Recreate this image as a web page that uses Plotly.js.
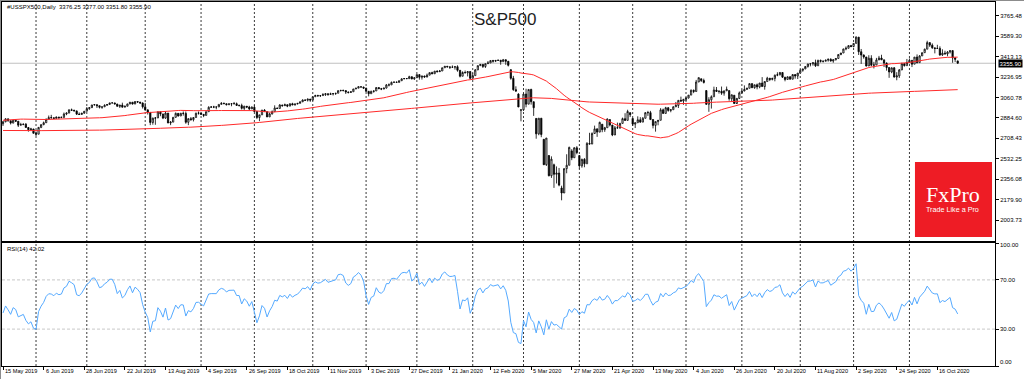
<!DOCTYPE html>
<html>
<head>
<meta charset="utf-8">
<script src="https://cdn.plot.ly/plotly-3.0.1.min.js"></script>
<style>
  html, body { margin: 0; padding: 0; background: #ffffff; }
  #chart { width: 1024px; height: 379px; }
  #frame { position: absolute; left: 0; top: 0; width: 1024px; height: 379px; box-sizing: border-box;
           border-left: 1px solid #8c8c8c; border-top: 1px solid #8c8c8c; pointer-events: none; }
</style>
</head>
<body>
<div id="chart"></div>
<div id="frame"></div>
<script>
// ---------------- DATA (daily bars #USSPX500) ----------------
const symbolTitle = '#USSPX500,Daily';
const chartName = 'S&P500';
const firstDay = '2019-05-15';
const lastDay = '2020-10-28';
const closedDays = ['2019-12-25', '2019-12-26', '2020-01-01', '2020-04-10'];

// x-axis labels (one every 16 bars)
const dateLabels = ['15 May 2019','6 Jun 2019','28 Jun 2019','22 Jul 2019','13 Aug 2019','4 Sep 2019',
  '26 Sep 2019','18 Oct 2019','11 Nov 2019','3 Dec 2019','27 Dec 2019','21 Jan 2020','12 Feb 2020',
  '5 Mar 2020','27 Mar 2020','21 Apr 2020','13 May 2020','4 Jun 2020','26 Jun 2020','20 Jul 2020',
  '11 Aug 2020','2 Sep 2020','24 Sep 2020','16 Oct 2020'];

// price-axis labels
const priceTicks = [2003.73, 2179.90, 2356.08, 2532.25, 2708.43, 2884.60, 3060.78, 3236.95, 3413.13, 3589.30, 3765.48];
const rsiTicks = [0, 30, 70, 100];
const rsiLevels = [30, 70];
const rsiReading = 42.02;   // value shown in the RSI window caption

// closes before the visible window (warm-up for the moving averages and RSI)
const closesBefore = [
2846,2837,2819,2803,2816,
2813,2827,2840,2850,2858,2858,2854,2833,2822,2840,2818,2841,2850,2857,2863,2862,2857,2875,2897,2898,2914,2901,2902,
2897,2889,2878,2872,2877,2888,2889,2904,2905,2889,2904,2908,2931,2930,2919,2916,2906,2914,2914,
2925,2923,2926,2902,2886,2884,2880,2786,2728,2767,2751,2810,2809,2769,2768,2756,2741,2656,2706,2659,2641,2683,2712,
2740,2723,2738,2755,2814,2807,2781,2726,2722,2702,2730,2736,2691,2642,2650,2633,2673,2682,2744,2738,2760,
2790,2700,2696,2633,2638,2637,2651,2651,2600,2546,2546,2507,2467,2417,2351,2468,2489,2486,2507,
2510,2448,2532,2550,2574,2585,2597,2596,2583,2610,2616,2636,2671,2633,2639,2642,2665,2644,2640,2681,2704,
2707,2725,2738,2732,2706,2708,2710,2745,2753,2746,2776,2780,2785,2775,2793,2796,2794,2792,2784,
2804,2793,2790,2771,2749,2743,2783,2792,2811,2808,2822,2833,2833,2824,2855,2801,2798,2818,2805,2815,2834,
2867,2867,2873,2879,2893,2896,2878,2888,2888,2907,2906,2907,2900,2905,2908,2934,2927,2926,2940,2943,2946,
2924,2918,2946,2932,2884,2879,2871,2881,2812,2834];

const open = [
2834,2851,2876,2860,2840,2864,2856,2822,2826,2830,
2802,2783,2789,2752,2744,2803,2826,2843,2873,2887,
2886,2880,2892,2887,2890,2918,2926,2954,2950,2945,
2917,2914,2925,2942,2964,2973,2996,2999,2990,2976,
2980,2993,3000,3014,3014,3004,2984,2995,2977,2985,
3005,3020,3004,3026,3021,3013,2980,2954,2932,2845,
2882,2884,2938,2919,2883,2926,2841,2848,2889,2924,
2901,2924,2923,2847,2878,2869,2888,2925,2926,2915,
2906,2938,2976,2979,2978,2979,3001,3010,3007,2998,
3006,3007,3007,2992,2992,2967,2985,2978,2962,2977,
2940,2888,2911,2952,2939,2893,2919,2938,2970,2966,
2996,2990,2998,2986,3007,2996,3005,3010,3023,3039,
3037,3047,3038,3067,3078,3075,3077,3085,3093,3087,
3092,3094,3097,3120,3122,3120,3108,3104,3110,3134,
3141,3154,3150,3141,3114,3093,3113,3117,3146,3136,
3133,3142,3169,3169,3191,3193,3191,3205,3221,3224,
3223,3240,3221,3231,3258,3235,3246,3237,3253,3275,
3265,3288,3283,3289,3317,3330,3324,3321,3322,3326,
3295,3244,3276,3273,3284,3226,3249,3298,3335,3346,
3328,3352,3358,3379,3374,3380,3382,3370,3386,3373,
3300,3226,3128,3090,2950,2954,3090,3003,3130,3024,
2880,2747,2882,2700,2481,2560,2386,2480,2398,2409,
2280,2237,2447,2476,2600,2541,2627,2560,2471,2527,
2489,2664,2659,2750,2790,2762,2830,2783,2800,2870,
2823,2737,2799,2798,2837,2878,2863,2930,2880,2831,
2843,2868,2848,2881,2930,2930,2870,2820,2853,2864,
2954,2923,2972,2949,2955,2980,2992,3036,3030,3044,
3056,3081,3123,3112,3194,3222,3207,3120,3002,3041,
3067,3125,3113,3115,3098,3118,3120,3050,3080,3009,
3053,3100,3116,3130,3140,3180,3145,3170,3152,3185,
3155,3198,3227,3216,3225,3252,3257,3276,3236,3216,
3239,3218,3258,3246,3271,3295,3307,3328,3349,3351,
3360,3334,3380,3373,3373,3382,3390,3375,3386,3397,
3431,3444,3479,3485,3508,3500,3527,3581,3455,3427,
3410,3332,3399,3339,3341,3384,3401,3385,3357,3319,
3281,3316,3237,3247,3298,3352,3335,3363,3381,3348,
3409,3361,3419,3447,3477,3534,3512,3489,3483,3484,
3427,3443,3436,3453,3465,3401,3376.25];

const high = [
2858,2882,2881,2862,2868,2868,2857,2842,2836,2840,
2806,2799,2790,2767,2806,2830,2853,2879,2905,2911,
2888,2896,2893,2895,2931,2932,2958,2965,2955,2947,
2932,2929,2944,2978,2974,2997,3001,3000,2990,2981,
3002,3003,3014,3018,3015,3006,2996,3016,2990,3006,
3020,3021,3028,3027,3022,3018,3014,2956,2932,2887,
2892,2938,2938,2919,2943,2926,2857,2893,2931,2925,
2928,2940,2940,2880,2892,2890,2930,2940,2928,2915,
2939,2985,2986,2989,2980,3001,3021,3017,3008,3006,
3008,3022,3017,2999,3007,2989,2987,2989,2984,2993,
2941,2911,2953,2960,2940,2930,2949,2993,2972,3003,
2997,3008,3000,3008,3015,3005,3013,3027,3044,3042,
3050,3047,3067,3084,3084,3079,3098,3094,3094,3102,
3098,3099,3121,3124,3128,3122,3111,3113,3134,3141,
3155,3155,3154,3144,3114,3120,3119,3150,3148,3143,
3143,3176,3182,3198,3198,3198,3206,3226,3228,3226,
3248,3240,3232,3259,3258,3247,3248,3267,3276,3283,
3288,3295,3298,3317,3330,3332,3330,3337,3327,3338,
3295,3286,3293,3285,3288,3268,3306,3337,3348,3348,
3353,3375,3382,3385,3381,3386,3383,3393,3389,3374,
3304,3247,3157,3097,2959,3091,3136,3130,3136,3024,
2882,2882,2882,2702,2711,2562,2553,2490,2466,2453,
2300,2449,2571,2637,2615,2631,2641,2560,2533,2538,
2676,2756,2760,2818,2792,2852,2832,2807,2880,2871,
2823,2815,2844,2842,2887,2925,2955,2931,2880,2844,
2898,2891,2892,2932,2945,2945,2874,2853,2865,2969,
2965,2980,2978,2957,2985,3022,3037,3068,3049,3063,
3082,3130,3129,3212,3233,3223,3223,3124,3063,3079,
3154,3151,3120,3155,3120,3155,3121,3086,3080,3055,
3112,3128,3165,3145,3183,3184,3171,3181,3186,3236,
3200,3239,3227,3231,3259,3278,3281,3280,3237,3242,
3243,3262,3260,3272,3302,3307,3331,3352,3353,3364,
3387,3387,3388,3378,3387,3396,3399,3391,3399,3432,
3445,3481,3501,3510,3514,3529,3588,3582,3479,3432,
3410,3425,3425,3368,3402,3419,3429,3386,3363,3320,
3320,3323,3279,3306,3360,3357,3393,3397,3382,3409,
3432,3426,3447,3482,3550,3534,3527,3490,3515,3502,
3476,3464,3460,3466,3466,3409,3377.00];

const low = [
2815,2847,2852,2828,2838,2852,2806,2820,2824,2800,
2766,2779,2750,2728,2744,2796,2822,2841,2873,2878,
2874,2878,2874,2883,2883,2908,2925,2946,2941,2911,
2910,2914,2921,2942,2954,2970,2992,2970,2966,2963,
2980,2990,3000,3010,3002,2984,2970,2975,2976,2985,
3002,3000,3004,3015,3006,2965,2946,2914,2822,2826,
2825,2884,2899,2874,2877,2839,2822,2848,2889,2896,
2901,2904,2834,2822,2861,2854,2888,2913,2910,2891,
2906,2938,2973,2969,2959,2979,3001,3006,2993,2996,
2985,3003,2989,2982,2957,2953,2969,2952,2962,2938,
2874,2856,2911,2935,2892,2893,2914,2938,2963,2966,
2981,2987,2977,2986,2996,2992,3001,3010,3023,3030,
3026,3023,3038,3067,3067,3065,3077,3074,3075,3085,
3078,3083,3097,3112,3114,3091,3095,3100,3110,3133,
3141,3148,3138,3110,3070,3093,3102,3117,3135,3124,
3133,3138,3156,3169,3189,3189,3189,3205,3219,3220,
3223,3217,3212,3231,3214,3215,3232,3235,3253,3262,
3265,3277,3281,3289,3317,3322,3306,3320,3301,3283,
3234,3244,3271,3242,3214,3226,3249,3298,3333,3315,
3315,3352,3358,3361,3366,3376,3343,3370,3342,3328,
3214,3118,3108,2977,2855,2945,2976,3003,2999,2902,
2705,2735,2718,2478,2470,2380,2367,2281,2319,2295,
2174,2237,2407,2476,2520,2540,2571,2448,2455,2459,
2489,2657,2659,2750,2721,2762,2761,2764,2800,2811,
2727,2737,2794,2791,2837,2860,2863,2892,2816,2797,
2843,2844,2848,2881,2902,2869,2794,2766,2821,2864,
2922,2923,2938,2933,2955,2980,2970,3023,2998,3030,
3052,3081,3098,3112,3194,3194,3181,2996,2937,2965,
3067,3108,3094,3083,3076,3118,3033,3024,3007,3004,
3047,3095,3115,3128,3140,3142,3136,3131,3140,3155,
3128,3198,3202,3208,3200,3244,3250,3229,3200,3214,
3216,3218,3223,3220,3271,3283,3305,3318,3329,3335,
3324,3334,3362,3362,3373,3370,3370,3360,3380,3397,
3425,3444,3468,3484,3494,3493,3527,3427,3350,3395,
3328,3332,3329,3311,3341,3384,3384,3323,3292,3230,
3270,3232,3209,3229,3298,3327,3335,3363,3323,3348,
3354,3361,3419,3447,3477,3496,3480,3441,3480,3420,
3419,3433,3416,3440,3360,3367,3351.80];

const close = [
2851,2876,2860,2840,2864,2856,2822,2826,2830,2802,
2783,2789,2752,2744,2803,2826,2843,2873,2887,2886,
2880,2892,2887,2890,2918,2926,2954,2950,2945,2917,
2914,2925,2942,2964,2973,2996,2999,2990,2976,2980,
2993,3000,3014,3014,3004,2984,2995,2977,2985,3005,
3020,3004,3026,3021,3013,2980,2954,2932,2845,2882,
2884,2938,2919,2883,2926,2841,2848,2889,2924,2901,
2924,2923,2847,2878,2869,2888,2925,2926,2915,2906,
2938,2976,2979,2978,2979,3001,3010,3007,2998,3006,
3007,3007,2992,2992,2967,2985,2978,2962,2977,2940,
2888,2911,2952,2939,2893,2919,2938,2970,2966,2996,
2990,2998,2986,3007,2996,3005,3010,3023,3039,3037,
3047,3038,3067,3078,3075,3077,3085,3093,3087,3092,
3094,3097,3120,3122,3120,3108,3104,3110,3134,3141,
3154,3150,3141,3114,3093,3113,3117,3146,3136,3133,
3142,3169,3169,3191,3193,3191,3205,3221,3224,3223,
3240,3221,3231,3258,3235,3246,3237,3253,3275,3265,
3288,3283,3289,3317,3330,3324,3321,3322,3326,3295,
3244,3276,3273,3284,3226,3249,3298,3335,3346,3328,
3352,3358,3379,3374,3380,3382,3370,3386,3373,3338,
3226,3128,3116,2979,2954,3090,3003,3130,3024,2972,
2747,2882,2741,2481,2711,2386,2529,2398,2409,2305,
2237,2447,2476,2630,2541,2627,2585,2471,2527,2489,
2664,2659,2750,2790,2762,2846,2783,2800,2875,2823,
2737,2799,2798,2837,2878,2863,2940,2912,2831,2843,
2868,2848,2881,2930,2930,2870,2820,2853,2864,2954,
2923,2972,2949,2955,2980,2992,3036,3030,3044,3056,
3081,3123,3112,3194,3232,3207,3190,3002,3041,3067,
3125,3113,3115,3098,3118,3131,3050,3084,3009,3053,
3100,3116,3130,3140,3180,3145,3170,3152,3185,3155,
3198,3227,3216,3225,3252,3257,3276,3236,3216,3239,
3218,3258,3246,3271,3295,3307,3328,3349,3351,3360,
3334,3380,3373,3373,3382,3390,3375,3386,3397,3431,
3444,3479,3485,3508,3500,3527,3581,3455,3427,3410,
3332,3399,3339,3341,3384,3401,3385,3357,3319,3281,
3316,3237,3247,3298,3352,3335,3363,3381,3348,3409,
3361,3419,3447,3477,3534,3512,3489,3483,3484,3427,
3443,3436,3453,3465,3401,3391,3355.90];

// ---------------- indicators (terminal definitions: SMA 50, SMA 200, RSI 14) ----------------
const allClose = closesBefore.concat(close);
const offset = closesBefore.length;
function sma(arr, n) {
  const out = [];
  for (let i = 0; i < arr.length; i++) {
    if (i < n - 1) { out.push(null); continue; }
    let s = 0; for (let k = i - n + 1; k <= i; k++) s += arr[k];
    out.push(s / n);
  }
  return out;
}
function rsi(arr, n) {
  const out = new Array(arr.length).fill(null);
  let pos = 0, neg = 0;
  for (let i = 1; i <= n; i++) { const d = arr[i] - arr[i-1]; if (d > 0) pos += d; else neg -= d; }
  pos /= n; neg /= n;
  out[n] = neg === 0 ? 100 : 100 - 100 / (1 + pos / neg);
  for (let i = n + 1; i < arr.length; i++) {
    const d = arr[i] - arr[i-1];
    pos = (pos * (n - 1) + (d > 0 ? d : 0)) / n;
    neg = (neg * (n - 1) + (d < 0 ? -d : 0)) / n;
    out[i] = neg === 0 ? 100 : 100 - 100 / (1 + pos / neg);
  }
  return out;
}
const ma50 = sma(allClose, 50).slice(offset);
const ma200 = sma(allClose, 200).slice(offset);
const rsi14 = rsi(allClose, 14).slice(offset);

// bar dates -> month-start grid lines
const dates = [];
for (let d = new Date(firstDay + 'T00:00:00Z'); d <= new Date(lastDay + 'T00:00:00Z'); d.setUTCDate(d.getUTCDate() + 1)) {
  const wd = d.getUTCDay();
  if (wd === 0 || wd === 6) continue;
  const s = d.toISOString().slice(0, 10);
  if (closedDays.includes(s)) continue;
  dates.push(s);
}
const monthStarts = [];
for (let i = 1; i < dates.length && i < close.length; i++) {
  if (dates[i].slice(5, 7) !== dates[i-1].slice(5, 7)) monthStarts.push(i);
}

const xs = close.map((_, i) => i);
const last = close.length - 1;
const labelBars = dateLabels.map((_, i) => i * 16);

// ---------------- plot ----------------
const FONT = 'Liberation Sans, Arial, sans-serif';
const traces = [
  { type: 'candlestick', x: xs, open: open, high: high, low: low, close: close,
    xaxis: 'x', yaxis: 'y', hoverinfo: 'skip', whiskerwidth: 0,
    increasing: { line: { color: '#000000', width: 0.8 }, fillcolor: '#ffffff' },
    decreasing: { line: { color: '#000000', width: 0.8 }, fillcolor: '#000000' } },
  { type: 'scatter', mode: 'lines', x: xs, y: ma200, xaxis: 'x', yaxis: 'y',
    line: { color: '#ff2a2a', width: 1 }, hoverinfo: 'skip' },
  { type: 'scatter', mode: 'lines', x: xs, y: ma50, xaxis: 'x', yaxis: 'y',
    line: { color: '#ff2a2a', width: 1 }, hoverinfo: 'skip' },
  { type: 'scatter', mode: 'lines', x: xs, y: rsi14, xaxis: 'x2', yaxis: 'y2',
    line: { color: '#55aaff', width: 1 }, hoverinfo: 'skip' }
];

const shapes = [];
monthStarts.forEach(i => {
  shapes.push({ type: 'line', xref: 'x', yref: 'paper', x0: i, x1: i, y0: 0, y1: 1, layer: 'below',
    line: { color: '#3a3a3a', width: 1, dash: '2px,2px' } });
});
rsiLevels.forEach(v => {
  shapes.push({ type: 'line', xref: 'paper', yref: 'y2', x0: 0, x1: 1, y0: v, y1: v, layer: 'below',
    line: { color: '#c8c8c8', width: 1, dash: '3px,2px' } });
});
// bid line at the last price
shapes.push({ type: 'line', xref: 'paper', yref: 'y', x0: 0, x1: 1, y0: close[last], y1: close[last], layer: 'below',
  line: { color: '#c0c0c0', width: 1 } });
// FxPro logo box
shapes.push({ type: 'rect', xref: 'paper', yref: 'paper', x0: 0.9194, x1: 0.997, y0: 0.3544, y1: 0.5604,
  fillcolor: '#ee1c25', line: { width: 0 }, layer: 'above' });

const f2 = v => Number(v).toFixed(2);
const annotations = [
  { xref: 'paper', yref: 'paper', x: 0.003, y: 0.986, xanchor: 'left', yanchor: 'middle', showarrow: false,
    text: symbolTitle + '  ' + f2(open[last]) + ' ' + f2(high[last]) + ' ' + f2(low[last]) + ' ' + f2(close[last]),
    font: { family: FONT, size: 6, color: '#000000' } },
  { xref: 'paper', yref: 'paper', x: 0.5066, y: 0.952, xanchor: 'center', yanchor: 'middle', showarrow: false,
    text: chartName, font: { family: FONT, size: 17, color: '#1e1e1e' } },
  { xref: 'paper', yref: 'paper', x: 0.003, y: 0.3214, xanchor: 'left', yanchor: 'middle', showarrow: false,
    text: 'RSI(14) ' + f2(rsiReading), font: { family: FONT, size: 6, color: '#000000' } },
  { xref: 'paper', yref: 'y', x: 1, y: close[last], xanchor: 'left', yanchor: 'middle', xshift: 3, showarrow: false,
    text: f2(close[last]), bgcolor: '#000000', borderpad: 0.5, font: { family: FONT, size: 6, color: '#ffffff' } },
  { xref: 'paper', yref: 'paper', x: 0.9577, y: 0.4698, xanchor: 'center', yanchor: 'middle', showarrow: false,
    text: 'FxPro', font: { family: 'Liberation Serif, Times New Roman, serif', size: 22, color: '#ffffff' } },
  { xref: 'paper', yref: 'paper', x: 0.9577, y: 0.4313, xanchor: 'center', yanchor: 'middle', showarrow: false,
    text: 'Trade Like a Pro', font: { family: FONT, size: 7.2, color: '#ffffff' } }
];
// date labels to the right of their tick marks, as in the terminal
dateLabels.forEach((t, i) => {
  annotations.push({ xref: 'x2', yref: 'paper', x: labelBars[i], y: 0, xanchor: 'left', yanchor: 'top',
    xshift: 1, yshift: -1, showarrow: false, text: t, borderpad: 0,
    font: { family: FONT, size: 5.6, color: '#000000' } });
});
// RSI scale labels (end labels pulled inside the window, as the terminal does)
rsiTicks.forEach(v => {
  annotations.push({ xref: 'paper', yref: 'y2', x: 1, y: v, xanchor: 'left', yanchor: 'middle',
    xshift: 4, yshift: v === 100 ? -2 : (v === 0 ? 4 : 0), showarrow: false, text: f2(v), borderpad: 0,
    font: { family: FONT, size: 6, color: '#000000' } });
});

const xRange = [-0.4, 390.7];
const layout = {
  width: 1024, height: 379,
  margin: { l: 2, r: 29, t: 2, b: 13, pad: 0 },
  paper_bgcolor: '#ffffff', plot_bgcolor: '#ffffff',
  showlegend: false,
  font: { family: FONT, size: 6, color: '#000000' },
  xaxis: { domain: [0, 1], anchor: 'y', range: xRange, showline: true, mirror: true, linecolor: '#000000', linewidth: 1,
    showgrid: false, zeroline: false, showticklabels: false, ticks: '', rangeslider: { visible: false }, fixedrange: true },
  yaxis: { domain: [0.3434, 1], anchor: 'x', side: 'right', range: [1823, 3884], showline: true, mirror: true,
    linecolor: '#000000', linewidth: 1, showgrid: false, zeroline: false,
    ticks: 'outside', ticklen: 3, tickcolor: '#000000', tickwidth: 1,
    tickvals: priceTicks, ticktext: priceTicks.map(f2), tickfont: { family: FONT, size: 6, color: '#000000' } },
  xaxis2: { domain: [0, 1], anchor: 'y2', matches: 'x', range: xRange, showline: true, mirror: true,
    linecolor: '#000000', linewidth: 1, showgrid: false, zeroline: false,
    ticks: 'outside', ticklen: 3, tickcolor: '#000000', tickwidth: 1,
    tickvals: labelBars, showticklabels: false },
  yaxis2: { domain: [0, 0.3379], anchor: 'x2', side: 'right', range: [0, 100], showline: true, mirror: true,
    linecolor: '#000000', linewidth: 1, showgrid: false, zeroline: false,
    ticks: 'outside', ticklen: 3, tickcolor: '#000000', tickwidth: 1,
    tickvals: rsiTicks, showticklabels: false },
  shapes: shapes,
  annotations: annotations
};

Plotly.newPlot('chart', traces, layout, { staticPlot: true, displayModeBar: false });
</script>
</body>
</html>
